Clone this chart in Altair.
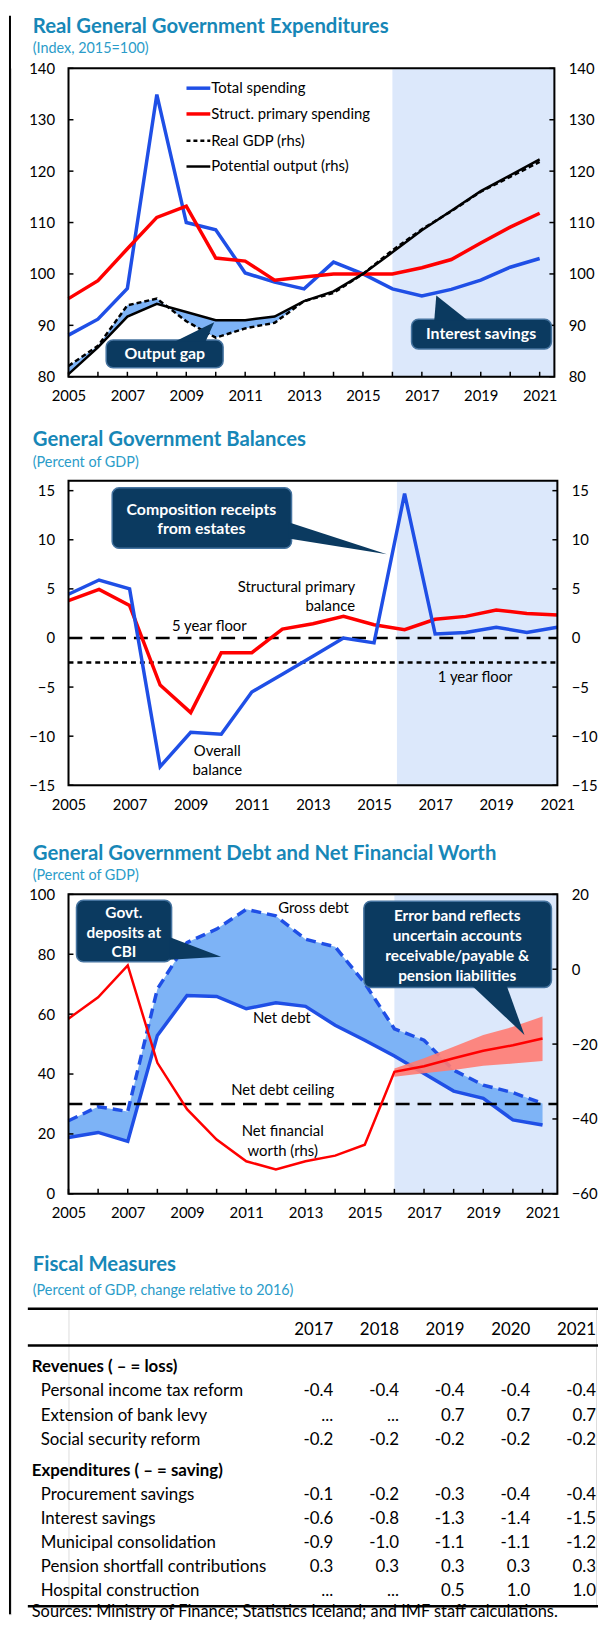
import altair as alt
import pandas as pd

FONT = "Lato"
BLUE = "#1f4fe6"
RED = "#ff0000"
BLACK = "#000000"
SHADE = "#dce8fb"
GAPFILL = "#7db3f6"
NAVY = "#0b3a60"
EDGE = "#45739f"
TITLE_C = "#1787b7"
SUB_C = "#2b9cc9"
BAND_C = "#ff7b72"

# ---------------- data ----------------
years = list(range(2005, 2022))

# Chart 1: Real General Government Expenditures (Index, 2015=100)
total_spending = [88.1, 91.2, 97.2, 134.9, 110.0, 108.6, 100.2, 98.4, 97.1, 102.3,
                  100.0, 97.1, 95.7, 97.0, 98.8, 101.3, 103.0]
struct_primary_spending = [95.2, 98.7, 104.9, 111.0, 113.2, 103.1, 102.5, 98.8, 99.4,
                           100.0, 100.0, 100.0, 101.2, 102.8, 106.0, 109.1, 111.8]
real_gdp = [82.1, 86.0, 93.9, 95.2, 90.8, 87.6, 89.4, 90.5, 94.7, 96.3, 100.0, 104.6,
            108.7, 112.2, 116.0, 118.9, 121.8]
potential_output = [80.5, 85.7, 91.7, 94.2, 92.6, 91.0, 91.0, 91.7, 94.7, 96.6, 100.0,
                    104.2, 108.5, 112.3, 116.1, 119.2, 122.3]
gap_years = list(range(2005, 2014))
legend1_labels = ["Total spending", "Struct. primary spending", "Real GDP (rhs)",
                  "Potential output (rhs)"]

# Chart 2: General Government Balances (Percent of GDP)
overall_balance = [4.45, 5.9, 5.0, -13.1, -9.6, -9.8, -5.5, -3.7, -1.85, 0.0, -0.5,
                   14.7, 0.4, 0.55, 1.1, 0.55, 1.1]
structural_primary_balance = [3.8, 4.95, 3.3, -4.8, -7.6, -1.5, -1.5, 0.9, 1.45, 2.2,
                              1.35, 0.85, 1.9, 2.2, 2.85, 2.5, 2.35]
five_year_floor = 0.0
one_year_floor = -2.5

# Chart 3: General Government Debt and Net Financial Worth (Percent of GDP)
gross_debt = [24.4, 29.1, 27.5, 68.4, 83.9, 88.4, 95.0, 92.8, 85.0, 82.5, 70.3, 55.1,
              51.3, 41.3, 36.3, 33.8, 30.2]
net_debt = [18.8, 20.5, 17.5, 52.9, 66.2, 65.9, 61.8, 63.8, 62.6, 56.3, 51.3, 46.0,
            40.2, 34.3, 31.9, 24.7, 23.0]
net_financial_worth = [-13.2, -7.5, 1.0, -25.0, -37.4, -45.5, -51.3, -53.5, -51.3,
                       -49.8, -46.9, -27.4, -25.9, -23.8, -21.8, -20.3, -18.5]
band_years = [2016, 2017, 2018, 2019, 2020, 2021]
band_upper = [-26.5, -23.8, -20.7, -17.6, -15.4, -12.6]
band_lower = [-28.7, -27.8, -26.9, -25.8, -25.2, -24.5]
net_debt_ceiling = 30.0

# Table: Fiscal Measures (Percent of GDP, change relative to 2016)
table_years = ["2017", "2018", "2019", "2020", "2021"]
revenue_items = ["Personal income tax reform", "Extension of bank levy",
                 "Social security reform"]
expenditure_items = ["Procurement savings", "Interest savings", "Municipal consolidation",
                     "Pension shortfall contributions", "Hospital construction"]
measures = {
    "2017": [-0.4, None, -0.2, -0.1, -0.6, -0.9, 0.3, None],
    "2018": [-0.4, None, -0.2, -0.2, -0.8, -1.0, 0.3, None],
    "2019": [-0.4, 0.7, -0.2, -0.3, -1.3, -1.1, 0.3, 0.5],
    "2020": [-0.4, 0.7, -0.2, -0.4, -1.4, -1.1, 0.3, 1.0],
    "2021": [-0.4, 0.7, -0.2, -0.4, -1.5, -1.2, 0.3, 1.0],
}

DUMMY = pd.DataFrame({"d": [0]})
TITLE_SIZE = 20.5
TBL_SIZE = 17


# ---------------- helpers ----------------
def xdef(domain):
    return alt.X("x:Q", scale=alt.Scale(domain=domain, nice=False, zero=False),
                 axis=alt.Axis(values=years, format="d",
                               labelExpr="datum.value % 2 == 1 ? datum.label : ''",
                               labelOverlap=False, labelFlush=False, ticks=False,
                               tickSize=0, domain=False, grid=False, labelPadding=12,
                               title=None, labelFontSize=15, labelFont=FONT,
                               labelColor="black"))


def ydef(domain, values=None, orient="left"):
    if values is None:
        return alt.Y("y:Q", scale=alt.Scale(domain=domain, nice=False, zero=False),
                     axis=None)
    return alt.Y("y:Q", scale=alt.Scale(domain=domain, nice=False, zero=False),
                 axis=alt.Axis(values=values, orient=orient, ticks=False, tickSize=0,
                               domain=False, grid=False, labelPadding=14, title=None,
                               labelFontSize=15, labelFont=FONT, labelColor="black"))


def line(xs, ys, X, Y, color, width, dash=None):
    kw = dict(color=color, strokeWidth=width)
    if dash:
        kw["strokeDash"] = dash
    return alt.Chart(pd.DataFrame({"x": xs, "y": ys})).mark_line(**kw).encode(x=X, y=Y)


def label(x, y, text, X, Y, align="center", size=15, color="black", weight="normal"):
    return alt.Chart(pd.DataFrame({"x": [x], "y": [y], "t": [text]})).mark_text(
        align=align, baseline="middle", font=FONT, fontSize=size, color=color,
        fontWeight=weight).encode(x=X, y=Y, text="t:N")


def tri_rows(v):
    a, b, c = sorted(v)
    if a[0] == b[0]:
        return [{"x": a[0], "y": a[1], "y2": b[1]}, {"x": c[0], "y": c[1], "y2": c[1]}]
    if b[0] == c[0]:
        return [{"x": a[0], "y": a[1], "y2": a[1]}, {"x": b[0], "y": b[1], "y2": c[1]}]
    t = (b[0] - a[0]) / (c[0] - a[0])
    yi = a[1] + t * (c[1] - a[1])
    return [{"x": a[0], "y": a[1], "y2": a[1]}, {"x": b[0], "y": b[1], "y2": yi},
            {"x": c[0], "y": c[1], "y2": c[1]}]


def callout(box, tri, lines, X, Y, size=16):
    x1, x2, y1, y2 = box
    rect = alt.Chart(pd.DataFrame({"x": [x1], "x2": [x2], "y": [y1], "y2": [y2]})).mark_rect(
        fill=NAVY, stroke=EDGE, strokeWidth=1.5, cornerRadius=7).encode(
        x=X, x2="x2:Q", y=Y, y2="y2:Q")
    ptr = alt.Chart(pd.DataFrame(tri_rows(tri))).mark_area(
        fill=NAVY, interpolate="linear").encode(x=X, y=Y, y2="y2:Q")
    texts = [label(lx, ly, t, X, Y, size=size, color="white", weight="bold")
             for (lx, ly, t) in lines]
    return [rect, ptr] + texts


def ytick_rules(values, Y, W, side):
    x0, x1 = (0, 5) if side == "left" else (W - 5, W)
    return alt.Chart(pd.DataFrame({"y": values})).mark_rule(
        color="black", strokeWidth=1.5).encode(x=alt.value(x0), x2=alt.value(x1), y=Y)


def xtick_rules(X, H):
    return alt.Chart(pd.DataFrame({"x": years})).mark_rule(
        color="black", strokeWidth=1.5).encode(x=X, y=alt.value(H - 5), y2=alt.value(H))


def frame(W, H):
    return alt.Chart(DUMMY).mark_rect(filled=False, stroke="black", strokeWidth=2).encode(
        x=alt.value(0), x2=alt.value(W), y=alt.value(0), y2=alt.value(H))


def extent(top, bottom):
    # invisible filler that fixes the vertical extent of a panel
    return alt.Chart(DUMMY).mark_rect(color="white", opacity=0, strokeWidth=0).encode(
        x=alt.value(-30), x2=alt.value(-29), y=alt.value(top), y2=alt.value(bottom))


def heading(title, sub, ty, sy):
    t = alt.Chart(DUMMY).mark_text(text=title, align="left", baseline="middle", font=FONT,
                                   fontSize=TITLE_SIZE, fontWeight="bold",
                                   color=TITLE_C).encode(x=alt.value(-36), y=alt.value(ty))
    s = alt.Chart(DUMMY).mark_text(text=sub, align="left", baseline="middle", font=FONT,
                                   fontSize=14.5, color=SUB_C).encode(
        x=alt.value(-36), y=alt.value(sy))
    return [t, s]


def shade(x0, x1, X, H):
    return alt.Chart(pd.DataFrame({"x": [x0], "x2": [x1]})).mark_rect(color=SHADE).encode(
        x=X, x2="x2:Q", y=alt.value(0), y2=alt.value(H))


def hrule(value, Y, W, dash, width=2.5):
    return alt.Chart(pd.DataFrame({"y": [value]})).mark_rule(
        color="black", strokeWidth=width, strokeDash=dash).encode(
        x=alt.value(0), x2=alt.value(W), y=Y)


# ---------------- panel 1 ----------------
W1, H1, K1, B1 = 490, 311, 53, 38
X1 = xdef([2005, 2021.5])
t1 = [80, 90, 100, 110, 120, 130, 140]
Y1L = ydef([80, 140], t1, "left")
Y1R = ydef([80, 140], t1, "right")
Y1A = ydef([80, 140])

gap_df = pd.DataFrame({"x": gap_years,
                       "y": real_gdp[:len(gap_years)],
                       "y2": potential_output[:len(gap_years)]})
left1 = [
    shade(2016, 2021.5, X1, H1),
    alt.Chart(gap_df).mark_area(color=GAPFILL).encode(x=X1, y=Y1L, y2="y2:Q"),
    line(years, total_spending, X1, Y1L, BLUE, 3.5),
    line(years, struct_primary_spending, X1, Y1L, RED, 3.5),
    line(years, real_gdp, X1, Y1L, BLACK, 2.5, [5, 3]),
    line(years, potential_output, X1, Y1L, BLACK, 2.5),
    ytick_rules(t1, Y1L, W1, "left"),
    xtick_rules(X1, H1),
]
right1 = [ytick_rules(t1, Y1R, W1, "right")]
annot1 = (
    callout((2006.28, 2010.25, 87.13, 81.73),
            [(2008.60, 86.8), (2009.65, 86.8), (2009.95, 90.6)],
            [(2008.27, 84.4, "Output gap")], X1, Y1A)
    + callout((2016.65, 2021.40, 91.19, 85.40),
              [(2017.42, 90.9), (2018.57, 90.9), (2017.49, 95.8)],
              [(2019.01, 88.3, "Interest savings")], X1, Y1A)
)
leg_styles = [(BLUE, 3.5, None), (RED, 3.5, None), (BLACK, 2.5, [4, 3]), (BLACK, 2.5, None)]
leg_rows = [20, 46, 73, 99]
legend1 = []
for (lab, (col, wd, dash), ry) in zip(legend1_labels, leg_styles, leg_rows):
    kw = dict(color=col, strokeWidth=wd)
    if dash:
        kw["strokeDash"] = dash
    legend1.append(alt.Chart(DUMMY).mark_rule(**kw).encode(
        x=alt.value(119), x2=alt.value(143), y=alt.value(ry)))
    legend1.append(alt.Chart(DUMMY).mark_text(text=lab, align="left", baseline="middle",
                                              font=FONT, fontSize=15, color="black").encode(
        x=alt.value(144), y=alt.value(ry)))

p1 = alt.layer(
    alt.layer(*left1), alt.layer(*right1), alt.layer(*annot1),
    *legend1, frame(W1, H1), extent(-K1, H1 + B1),
    *heading("Real General Government Expenditures", "(Index, 2015=100)", -42, -19)
).resolve_scale(y="independent").properties(width=W1, height=H1)

# ---------------- panel 2 ----------------
W2, H2, K2, B2 = 493, 307, 65, 43
X2 = xdef([2005, 2021])
t2 = [-15, -10, -5, 0, 5, 10, 15]
Y2L = ydef([-15, 16], t2, "left")
Y2R = ydef([-15, 16], t2, "right")
Y2A = ydef([-15, 16])

left2 = [
    shade(2015.75, 2021, X2, H2),
    hrule(five_year_floor, Y2L, W2, [14, 8]),
    hrule(one_year_floor, Y2L, W2, [5, 4]),
    line(years, structural_primary_balance, X2, Y2L, RED, 3.5),
    line(years, overall_balance, X2, Y2L, BLUE, 3.5),
    ytick_rules(t2, Y2L, W2, "left"),
]
right2 = [ytick_rules(t2, Y2R, W2, "right")]
annot2 = [
    label(2014.38, 5.2, "Structural primary", X2, Y2A, align="right"),
    label(2014.38, 3.28, "balance", X2, Y2A, align="right"),
    label(2009.61, 1.26, "5 year floor", X2, Y2A),
    label(2018.31, -4.0, "1 year floor", X2, Y2A),
    label(2009.87, -11.47, "Overall", X2, Y2A),
    label(2009.87, -13.49, "balance", X2, Y2A),
] + callout((2006.43, 2012.30, 15.29, 9.13),
            [(2012.2, 11.79), (2012.2, 10.14), (2015.42, 8.53)],
            [(2009.35, 13.07, "Composition receipts"), (2009.35, 11.05, "from estates")],
            X2, Y2A)

p2 = alt.layer(
    alt.layer(*left2), alt.layer(*right2), alt.layer(*annot2),
    frame(W2, H2), extent(-K2, H2 + B2),
    *heading("General Government Balances", "(Percent of GDP)", -41, -18)
).resolve_scale(y="independent").properties(width=W2, height=H2)

# ---------------- panel 3 ----------------
W3, H3, K3, B3 = 493, 302, 65, 43
X3 = xdef([2005, 2021.5])
t3l = [0, 20, 40, 60, 80, 100]
t3r = [-60, -40, -20, 0, 20]
Y3L = ydef([0, 100], t3l, "left")
Y3R = ydef([-60, 20], t3r, "right")
Y3A = ydef([0, 100])

debt_df = pd.DataFrame({"x": years, "y": gross_debt, "y2": net_debt})
band_df = pd.DataFrame({"x": band_years, "y": band_upper, "y2": band_lower})
left3 = [
    shade(2016, 2021.5, X3, H3),
    alt.Chart(debt_df).mark_area(color=GAPFILL).encode(x=X3, y=Y3L, y2="y2:Q"),
    line(years, net_debt, X3, Y3L, BLUE, 3.5),
    line(years, gross_debt, X3, Y3L, BLUE, 3.5, [10, 6]),
    hrule(net_debt_ceiling, Y3L, W3, [14, 8]),
    ytick_rules(t3l, Y3L, W3, "left"),
    xtick_rules(X3, H3),
]
right3 = [
    alt.Chart(band_df).mark_area(color=BAND_C, opacity=0.9).encode(x=X3, y=Y3R, y2="y2:Q"),
    line(years, net_financial_worth, X3, Y3R, RED, 2.5),
    ytick_rules(t3r, Y3R, W3, "right"),
]
annot3 = [
    label(2013.27, 95.4, "Gross debt", X3, Y3A),
    label(2012.2, 58.6, "Net debt", X3, Y3A),
    label(2012.23, 34.8, "Net debt ceiling", X3, Y3A),
    label(2012.23, 20.9, "Net financial", X3, Y3A),
    label(2012.23, 14.2, "worth (rhs)", X3, Y3A),
] + callout((2005.27, 2008.48, 98.0, 77.5),
            [(2008.4, 85.8), (2008.4, 78.2), (2010.15, 79.2)],
            [(2006.87, 93.7, "Govt."), (2006.87, 87.1, "deposits at"),
             (2006.87, 80.8, "CBI")], X3, Y3A, size=15.5) \
  + callout((2014.97, 2021.30, 97.7, 68.9),
            [(2018.62, 69.5), (2019.79, 69.5), (2020.39, 53.0)],
            [(2018.12, 92.7, "Error band reflects"), (2018.12, 86.1, "uncertain accounts"),
             (2018.12, 79.5, "receivable/payable &"), (2018.12, 72.8, "pension liabilities")],
            X3, Y3A, size=15.5)

p3 = alt.layer(
    alt.layer(*left3), alt.layer(*right3), alt.layer(*annot3),
    frame(W3, H3), extent(-K3, H3 + B3),
    *heading("General Government Debt and Net Financial Worth", "(Percent of GDP)", -41, -18)
).resolve_scale(y="independent").properties(width=W3, height=H3)

# ---------------- panel 4 (table) ----------------
W4, H4, K4, B4 = 532, 300, 71, 14
item_lines = [1, 2, 3, 5.3, 6.3, 7.3, 8.3, 9.3]
section_lines = [0, 4.3]
YT = alt.Y("line:Q", scale=alt.Scale(domain=[0, 9.3], range=[59, 285]), axis=None)
XT = alt.X("col:Q", scale=alt.Scale(domain=[0, 4], range=[267, 532]), axis=None)

sec_df = pd.DataFrame({"line": section_lines,
                       "t": ["Revenues ( \u2013 = loss)", "Expenditures ( \u2013 = saving)"]})
item_df = pd.DataFrame({"line": item_lines, "t": revenue_items + expenditure_items})
num_rows = []
for ci, yr in enumerate(table_years):
    for ln, v in zip(item_lines, measures[yr]):
        num_rows.append({"col": ci, "line": ln, "t": "..." if v is None else f"{v:.1f}"})
num_df = pd.DataFrame(num_rows)
hdr_df = pd.DataFrame({"col": list(range(5)), "t": table_years})

tbl_layers = [
    alt.Chart(sec_df).mark_text(align="left", baseline="middle", font=FONT, fontSize=TBL_SIZE,
                                fontWeight="bold", color="black").encode(
        x=alt.value(-37), y=YT, text="t:N"),
    alt.Chart(item_df).mark_text(align="left", baseline="middle", font=FONT, fontSize=TBL_SIZE,
                                 color="black").encode(x=alt.value(-28), y=YT, text="t:N"),
    alt.Chart(num_df).mark_text(align="right", baseline="middle", font=FONT, fontSize=TBL_SIZE,
                                color="black").encode(x=XT, y=YT, text="t:N"),
    alt.Chart(hdr_df).mark_text(align="right", baseline="middle", font=FONT, fontSize=TBL_SIZE,
                                color="black").encode(x=XT, y=alt.value(21), text="t:N"),
]
for ry in [0, 37, 300]:
    tbl_layers.append(alt.Chart(DUMMY).mark_rect(color="black", strokeWidth=0).encode(
        x=alt.value(-41), x2=alt.value(534), y=alt.value(ry - 1.25), y2=alt.value(ry + 1.25)))
tbl_layers.append(alt.Chart(DUMMY).mark_text(
    text="Sources: Ministry of Finance; Statistics Iceland; and IMF staff calculations.",
    align="left", baseline="middle", font=FONT, fontSize=16.5, color="black").encode(
    x=alt.value(-37), y=alt.value(306)))
tbl_layers.append(extent(-K4, H4 + B4))
tbl_layers += heading("Fiscal Measures", "(Percent of GDP, change relative to 2016)", -44, -18)

p4 = alt.layer(*tbl_layers).properties(width=W4, height=H4)

body = alt.vconcat(p1, p2, p3, p4, spacing=0)

# continuous black rule down the left edge of the page; the concat layout aligns
# its origin with the first panel's plot origin, so it starts K1 px above it
TOTAL_H = 1612
strip = alt.Chart(DUMMY).mark_rect(color="black", strokeWidth=0).encode(
    x=alt.value(0), x2=alt.value(2), y=alt.value(-K1), y2=alt.value(TOTAL_H - K1)
).properties(width=2, height=TOTAL_H - K1)

chart = alt.hconcat(strip, body, spacing=15).properties(
    padding={"left": 0, "top": 0, "right": 0, "bottom": 0}
).configure_view(strokeWidth=0).configure(font=FONT)

chart.save("out.html", embed_options={"renderer": "svg", "actions": False})
